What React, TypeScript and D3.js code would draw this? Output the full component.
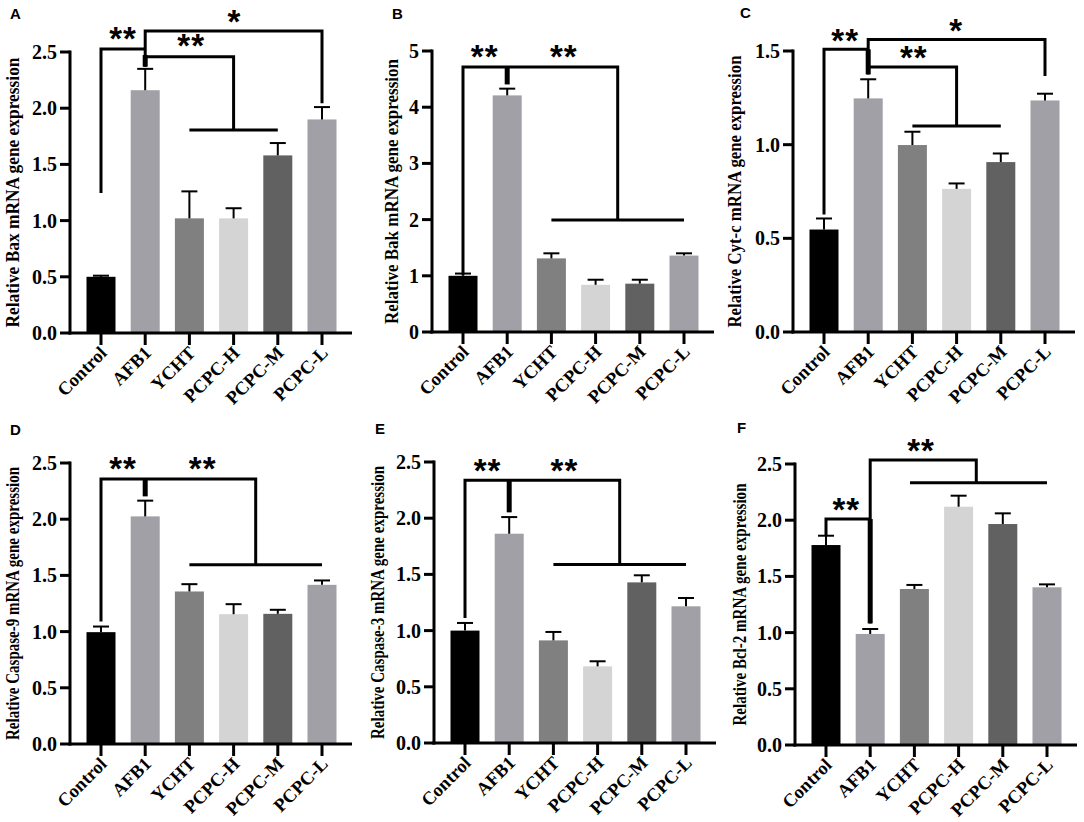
import React from 'react';
import * as d3 from 'd3';

const categories = ['Control', 'AFB1', 'YCHT', 'PCPC-H', 'PCPC-M', 'PCPC-L'];
const barColors = ['#000000', '#a0a0a6', '#808080', '#d4d4d4', '#616161', '#a0a0a6'];

// A - Bax
const baxMean = [0.5, 2.16, 1.02, 1.02, 1.58, 1.9];
const baxSd = [0.01, 0.19, 0.24, 0.09, 0.11, 0.11];
// B - Bak
const bakMean = [1.0, 4.21, 1.31, 0.84, 0.86, 1.36];
const bakSd = [0.04, 0.12, 0.09, 0.09, 0.07, 0.04];
// C - Cyt-c
const cytMean = [0.547, 1.247, 0.998, 0.764, 0.907, 1.236];
const cytSd = [0.059, 0.102, 0.071, 0.029, 0.046, 0.036];
// D - Caspase-9
const casp9Mean = [0.995, 2.025, 1.357, 1.155, 1.158, 1.416];
const casp9Sd = [0.05, 0.14, 0.065, 0.089, 0.036, 0.039];
// E - Caspase-3
const casp3Mean = [1.0, 1.862, 0.913, 0.682, 1.429, 1.216];
const casp3Sd = [0.068, 0.148, 0.075, 0.045, 0.063, 0.074];
// F - Bcl-2
const bcl2Mean = [1.779, 0.988, 1.388, 2.12, 1.966, 1.403];
const bcl2Sd = [0.083, 0.044, 0.036, 0.098, 0.095, 0.026];

// significance brackets: [category index, value] polylines
type Bracket = { pts: [number, number][]; w?: number };
type Star = { text: string; i: number; v: number };

const baxBrackets: Bracket[] = [
  { pts: [[0, 1.245], [0, 2.527], [1, 2.527]] },
  { pts: [[1, 2.369], [1, 2.687], [5, 2.687], [5, 2.044]] },
  { pts: [[1, 2.458], [3, 2.458], [3, 1.806]] },
  { pts: [[2, 1.806], [4, 1.806]] },
  { pts: [[1, 2.369], [1, 2.473]], w: 5 },
];
const baxStars: Star[] = [
  { text: '**', i: 0.5, v: 2.687 },
  { text: '**', i: 2.04, v: 2.627 },
  { text: '*', i: 3.02, v: 2.838 },
];

const bakBrackets: Bracket[] = [
  { pts: [[0, 1.01], [0, 4.714], [3.5, 4.714], [3.5, 1.994]] },
  { pts: [[2, 1.994], [5, 1.994]] },
  { pts: [[1, 4.714], [1, 4.405]], w: 5 },
];
const bakStars: Star[] = [
  { text: '**', i: 0.49, v: 5.03 },
  { text: '**', i: 2.28, v: 5.03 },
];

const cytBrackets: Bracket[] = [
  { pts: [[0, 0.627], [0, 1.509], [1, 1.509]] },
  { pts: [[1, 1.375], [1, 1.562], [5, 1.562], [5, 1.366]] },
  { pts: [[1, 1.415], [3, 1.415], [3, 1.099]] },
  { pts: [[2, 1.099], [4, 1.099]] },
  { pts: [[1, 1.375], [1, 1.509]], w: 5 },
];
const cytStars: Star[] = [
  { text: '**', i: 0.48, v: 1.598 },
  { text: '**', i: 2.03, v: 1.504 },
  { text: '*', i: 2.99, v: 1.652 },
];

const casp9Brackets: Bracket[] = [
  { pts: [[0, 1.09], [0, 2.357], [3.5, 2.357], [3.5, 1.594]] },
  { pts: [[2, 1.594], [5, 1.594]] },
  { pts: [[1, 2.357], [1, 2.203]], w: 5 },
];
const casp9Stars: Star[] = [
  { text: '**', i: 0.5, v: 2.515 },
  { text: '**', i: 2.3, v: 2.515 },
];

const casp3Brackets: Bracket[] = [
  { pts: [[0, 1.112], [0, 2.337], [3.5, 2.337], [3.5, 1.587]] },
  { pts: [[2, 1.587], [5, 1.587]] },
  { pts: [[1, 2.337], [1, 2.052]], w: 5 },
];
const casp3Stars: Star[] = [
  { text: '**', i: 0.51, v: 2.491 },
  { text: '**', i: 2.25, v: 2.491 },
];

const bcl2Brackets: Bracket[] = [
  { pts: [[0, 1.859], [0, 2.011], [1, 2.011]] },
  { pts: [[1, 1.082], [1, 2.536], [3.4, 2.536], [3.4, 2.334]] },
  { pts: [[1.9, 2.334], [5, 2.334]] },
  { pts: [[1, 1.082], [1, 2.011]], w: 5 },
];
const bcl2Stars: Star[] = [
  { text: '**', i: 2.15, v: 2.684 },
  { text: '**', i: 0.46, v: 2.165 },
];

const panels = [
  { letter: 'A', gene: 'Bax', mean: baxMean, sd: baxSd, yMax: 2.5, step: 0.5, fmt: '.1f', brackets: baxBrackets, stars: baxStars,
    x0: 70, y0: 333, lx: 10, ly: 19, labX: -57, labLen: 270 },
  { letter: 'B', gene: 'Bak', mean: bakMean, sd: bakSd, yMax: 5, step: 1, fmt: 'd', brackets: bakBrackets, stars: bakStars,
    x0: 432, y0: 332, lx: 392, ly: 19, labX: -40, labLen: 265 },
  { letter: 'C', gene: 'Cyt-c', mean: cytMean, sd: cytSd, yMax: 1.5, step: 0.5, fmt: '.1f', brackets: cytBrackets, stars: cytStars,
    x0: 793, y0: 332, lx: 740, ly: 18, labX: -58, labLen: 272 },
  { letter: 'D', gene: 'Caspase-9', mean: casp9Mean, sd: casp9Sd, yMax: 2.5, step: 0.5, fmt: '.1f', brackets: casp9Brackets, stars: casp9Stars,
    x0: 70, y0: 744, lx: 10, ly: 435, labX: -57, labLen: 273 },
  { letter: 'E', gene: 'Caspase-3', mean: casp3Mean, sd: casp3Sd, yMax: 2.5, step: 0.5, fmt: '.1f', brackets: casp3Brackets, stars: casp3Stars,
    x0: 434, y0: 743, lx: 375, ly: 434, labX: -56, labLen: 273 },
  { letter: 'F', gene: 'Bcl-2', mean: bcl2Mean, sd: bcl2Sd, yMax: 2.5, step: 0.5, fmt: '.1f', brackets: bcl2Brackets, stars: bcl2Stars,
    x0: 795, y0: 745, lx: 737, ly: 433, labX: -55, labLen: 242 },
];

const PLOT_H = 281;
const serif = '"Liberation Serif", "Times New Roman", serif';
const sans = '"Liberation Sans", Arial, sans-serif';

function Panel({ p }: { p: (typeof panels)[number] }) {
  const y = d3.scaleLinear().domain([0, p.yMax]).range([p.y0, p.y0 - PLOT_H]);
  const xs = d3.scalePoint<string>().domain(categories).range([p.x0 + 31, p.x0 + 252]);
  const xi = d3.scaleLinear().domain([0, categories.length - 1]).range([p.x0 + 31, p.x0 + 252]);
  const line = d3.line<[number, number]>().x((d) => xi(d[0])).y((d) => y(d[1]));
  const ticks = d3.range(0, p.yMax + 1e-9, p.step);
  const fmt = d3.format(p.fmt);
  const bw = 29;

  return (
    <g>
      <text x={p.lx} y={p.ly} fontFamily={sans} fontWeight="bold" fontSize={15}>{p.letter}</text>

      {categories.map((c, i) => (
        <rect key={c} x={xs(c)! - bw / 2} y={y(p.mean[i])} width={bw} height={p.y0 - y(p.mean[i])} fill={barColors[i]} />
      ))}
      {categories.map((c, i) => {
        const top = y(p.mean[i] + p.sd[i]);
        return (
          <g key={c} stroke="#000" strokeWidth={2}>
            <line x1={xs(c)} x2={xs(c)} y1={y(p.mean[i])} y2={top} />
            <line x1={xs(c)! - 8} x2={xs(c)! + 8} y1={top} y2={top} />
          </g>
        );
      })}

      {/* y axis */}
      <line x1={p.x0} x2={p.x0} y1={y(p.yMax) - 1.5} y2={p.y0 + 1.5} stroke="#000" strokeWidth={3} />
      {ticks.map((t) => (
        <g key={t}>
          <line x1={p.x0 - 10} x2={p.x0} y1={y(t)} y2={y(t)} stroke="#000" strokeWidth={3} />
          <text x={p.x0 - 13} y={y(t)} dy="0.35em" textAnchor="end" fontFamily={serif} fontWeight="bold" fontSize={20}>
            {fmt(t)}
          </text>
        </g>
      ))}
      <text
        transform={`translate(${p.x0 + p.labX},${(y(p.yMax) + p.y0) / 2}) rotate(-90)`}
        textAnchor="middle"
        dy="0.35em"
        fontFamily={serif}
        fontWeight="bold"
        fontSize={18.5}
        textLength={p.labLen}
        lengthAdjust="spacingAndGlyphs"
      >
        {`Relative ${p.gene} mRNA gene expression`}
      </text>

      {/* x axis */}
      <line x1={p.x0 - 1.5} x2={p.x0 + 282} y1={p.y0} y2={p.y0} stroke="#000" strokeWidth={3} />
      {categories.map((c) => (
        <g key={c}>
          <line x1={xs(c)} x2={xs(c)} y1={p.y0} y2={p.y0 + 12} stroke="#000" strokeWidth={3} />
          <text
            transform={`translate(${xs(c)! + 7},${p.y0 + 21}) rotate(-45)`}
            textAnchor="end"
            fontFamily={serif}
            fontWeight="bold"
            fontSize={18.5}
          >
            {c}
          </text>
        </g>
      ))}

      {/* significance brackets */}
      {p.brackets.map((b, k) => (
        <path key={k} d={line(b.pts)!} fill="none" stroke="#000" strokeWidth={b.w ?? 3} strokeLinejoin="miter" />
      ))}
      {p.stars.map((s, k) => (
        <text key={k} x={xi(s.i)} y={y(s.v) + 19} textAnchor="middle" fontFamily={sans} fontWeight="bold" fontSize={33} letterSpacing={1}>
          {s.text}
        </text>
      ))}
    </g>
  );
}

export default function App() {
  return (
    <svg width={1084} height={822} style={{ position: 'absolute', left: 0, top: 0, background: '#fff' }}>
      <rect width={1084} height={822} fill="#fff" />
      {panels.map((p) => (
        <Panel key={p.letter} p={p} />
      ))}
    </svg>
  );
}
